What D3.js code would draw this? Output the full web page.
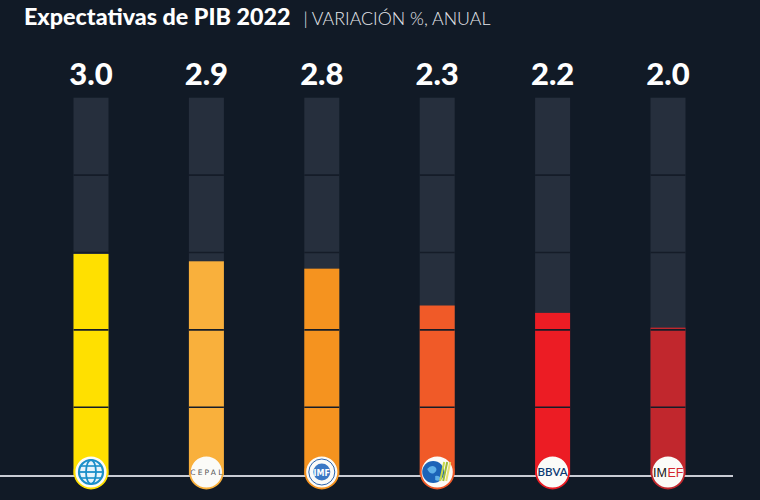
<!DOCTYPE html>
<html>
<head>
<meta charset="utf-8">
<script src="https://cdn.jsdelivr.net/npm/d3@7"></script>
<style>
html,body{margin:0;padding:0;background:#111a26;}
svg{display:block;}
</style>
</head>
<body>
<script>
const categories = ["Banco Mundial", "CEPAL", "FMI", "OCDE", "BBVA", "IMEF"];
const values = [3.0, 2.9, 2.8, 2.3, 2.2, 2.0];
const colors = ["#ffe000", "#f9b03c", "#f5931f", "#f05a28", "#ec1c24", "#c1272d"];
const valueLabels = ["3.0", "2.9", "2.8", "2.3", "2.2", "2.0"];
const trackMax = 5.12;
const trackMin = -0.13;
const segments = 5;

const W = 760, H = 500;
const svg = d3.select("body").append("svg").attr("width", W).attr("height", H);
svg.append("rect").attr("width", W).attr("height", H).attr("fill", "#111a26");

const x = d3.scalePoint().domain(categories).range([91, 668]);
const y = d3.scaleLinear().domain([0, trackMax]).range([475, 97.7]);
const bw = 35;
const bottom = y(0) + 1;

// title
const t = svg.append("text").attr("x", 24).attr("y", 25).attr("fill", "#fff");
t.append("tspan").text("Expectativas de PIB 2022").attr("font-family", "Lato, sans-serif").attr("font-weight", 900).attr("font-size", 23.3);
t.append("tspan").text(" | VARIACIÓN %, ANUAL").attr("font-family", "Lato, sans-serif").attr("font-weight", 300).attr("font-size", 17.8).attr("dx", 8).attr("fill", "#e6e8ec");

const g = svg.append("g");
// tracks
g.selectAll("rect.track").data(categories).join("rect")
  .attr("class", "track")
  .attr("x", d => x(d) - bw / 2).attr("width", bw)
  .attr("y", y(trackMax)).attr("height", bottom - y(trackMax))
  .attr("fill", "#262f3d");
// bars
g.selectAll("rect.bar").data(values).join("rect")
  .attr("class", "bar")
  .attr("x", (d, i) => x(categories[i]) - bw / 2).attr("width", bw)
  .attr("y", d => y(d)).attr("height", d => bottom - y(d))
  .attr("fill", (d, i) => colors[i]);
// dividers
const segH = (y(trackMin) - y(trackMax)) / segments;
const divs = d3.range(1, segments);
categories.forEach((c, i) => {
  g.selectAll(null).data(divs).join("line")
    .attr("x1", x(c) - bw / 2).attr("x2", x(c) + bw / 2)
    .attr("y1", k => y(trackMax) + k * segH).attr("y2", k => y(trackMax) + k * segH)
    .attr("stroke", "#151c28").attr("stroke-width", 1.6);
});

// value labels
svg.selectAll("text.val").data(valueLabels).join("text")
  .attr("class", "val")
  .attr("x", (d, i) => x(categories[i])).attr("y", 85)
  .attr("text-anchor", "middle")
  .attr("font-family", "Lato, sans-serif").attr("font-weight", 900).attr("font-size", 31)
  .attr("fill", "#fff").text(d => d);

// baseline
svg.append("line").attr("x1", 0).attr("x2", 733).attr("y1", y(0) + 1).attr("y2", y(0) + 1)
  .attr("stroke", "#c9ccd4").attr("stroke-width", 2);

// logos
const cy = 472, r = 16.5;
const logos = svg.selectAll("g.logo").data(categories).join("g")
  .attr("class", "logo").attr("transform", d => `translate(${x(d)},${cy})`);
logos.append("circle").attr("r", r).attr("fill", "#fbfbf8")
  .attr("stroke", (d, i) => colors[i]).attr("stroke-width", 1.8);

// World Bank globe
const wb = logos.filter(d => d === "Banco Mundial");
wb.append("circle").attr("r", 12).attr("fill", "#e8f4fb").attr("stroke", "#1b8fc9").attr("stroke-width", 2.2);
wb.append("ellipse").attr("rx", 5).attr("ry", 12).attr("fill", "none").attr("stroke", "#1b8fc9").attr("stroke-width", 1.8);
wb.append("line").attr("x1", -12).attr("x2", 12).attr("stroke", "#1b8fc9").attr("stroke-width", 1.8);
wb.append("line").attr("x1", -10).attr("x2", 10).attr("y1", -6).attr("y2", -6).attr("stroke", "#1b8fc9").attr("stroke-width", 1.6);
wb.append("line").attr("x1", -10).attr("x2", 10).attr("y1", 6).attr("y2", 6).attr("stroke", "#1b8fc9").attr("stroke-width", 1.6);

// CEPAL
logos.filter(d => d === "CEPAL").append("text").text("CEPAL")
  .attr("text-anchor", "middle").attr("y", 3).attr("font-family", "DejaVu Sans, sans-serif")
  .attr("font-size", 7.5).attr("letter-spacing", 2.2).attr("fill", "#555").attr("dx", 1);

// FMI seal
const imf = logos.filter(d => d === "FMI");
imf.append("circle").attr("r", 13).attr("fill", "none").attr("stroke", "#2c64ae").attr("stroke-width", 1);
imf.append("circle").attr("r", 8.5).attr("fill", "#3b78c4");
imf.append("text").text("IMF").attr("text-anchor", "middle").attr("y", 3.5)
  .attr("font-family", "DejaVu Sans, sans-serif").attr("font-weight", "bold").attr("font-size", 8).attr("fill", "#fff");

// OCDE
const oe = logos.filter(d => d === "OCDE");
oe.append("circle").attr("cx", -4).attr("r", 11).attr("fill", "#1c63b8");
oe.append("path").attr("d", "M-10,-3 q4,-5 8,-2 q3,3 -1,6 q-4,2 -7,-4z M-2,4 q4,-1 6,3 q-3,3 -6,1z").attr("fill", "#5fb0e8");
oe.selectAll(null).data([0, 1, 2]).join("line")
  .attr("x1", k => 7 + k * 3).attr("x2", k => 3 + k * 3).attr("y1", -10).attr("y2", 9)
  .attr("stroke", k => ["#c9d94a", "#9dbb3a", "#e8e070"][k]).attr("stroke-width", 2);

// BBVA
logos.filter(d => d === "BBVA").append("text").text("BBVA")
  .attr("text-anchor", "middle").attr("y", 4).attr("font-family", "Lato, sans-serif")
  .attr("font-size", 11.5).attr("font-weight", 600).attr("fill", "#0b3a73");

// IMEF
const imef = logos.filter(d => d === "IMEF");
imef.append("text").text("IM").attr("x", -1).attr("y", 4.5).attr("text-anchor", "end")
  .attr("font-family", "Liberation Sans, sans-serif").attr("font-size", 12.5).attr("fill", "#111");
imef.append("text").text("EF").attr("x", -0.5).attr("y", 4.5).attr("text-anchor", "start")
  .attr("font-family", "Liberation Sans, sans-serif").attr("font-size", 12.5).attr("fill", "#d3262e");
</script>
</body>
</html>
